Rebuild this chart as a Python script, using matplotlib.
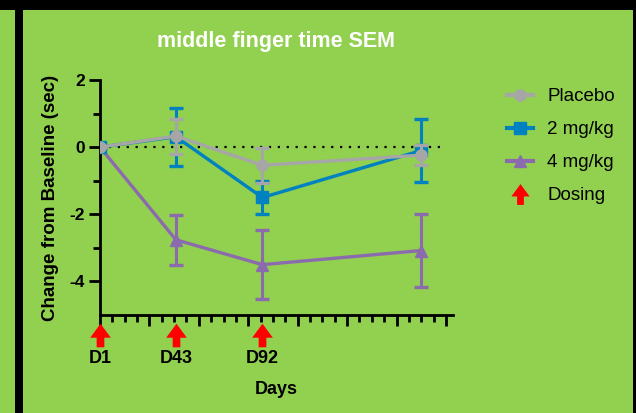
import numpy as np
import matplotlib
matplotlib.use("Agg")
import matplotlib.pyplot as plt
from matplotlib.path import Path
from matplotlib.lines import Line2D
from matplotlib.patches import Rectangle
import matplotlib.transforms as mtransforms

plt.rcParams['font.family'] = ['Liberation Sans', 'DejaVu Sans']

# Study days of each visit and change from baseline (sec) with SEM
days = [0, 43, 92, 182]
placebo_mean = [0.0, 0.33, -0.54, -0.24]
placebo_sem = [0.0, 0.52, 0.52, 0.30]
mg2_mean = [0.0, 0.31, -1.50, -0.10]
mg2_sem = [0.0, 0.86, 0.50, 0.93]
mg4_mean = [0.0, -2.76, -3.50, -3.08]
mg4_sem = [0.0, 0.74, 1.02, 1.10]

dose_days = [0, 43, 92]
dose_labels = ["D1", "D43", "D92"]

series_names = ["Placebo", "2 mg/kg", "4 mg/kg"]

GREEN = "#92D050"
GRAY = "#A6A6A6"
BLUE = "#0082C0"
PURPLE = "#8B6BAE"

fig = plt.figure(figsize=(6.36, 4.13), dpi=100)
fig.patch.set_facecolor(GREEN)

# dark frame around the panel
fig.add_artist(Rectangle((0, 1 - 10 / 413), 1, 10 / 413, transform=fig.transFigure,
                         facecolor="black", edgecolor="none", zorder=0))
fig.add_artist(Rectangle((15 / 636, 0), 8 / 636, 1, transform=fig.transFigure,
                         facecolor="black", edgecolor="none", zorder=0))
fig.add_artist(Rectangle((633 / 636, 0), 3 / 636, 1, transform=fig.transFigure,
                         facecolor="black", edgecolor="none", zorder=0))

ax = fig.add_axes([100 / 636, 98 / 413, 353 / 636, 235 / 413])
ax.set_facecolor(GREEN)
ax.set_xlim(0, 200)
ax.set_ylim(-5, 2)

for s in ["top", "right"]:
    ax.spines[s].set_visible(False)
for s in ["left", "bottom"]:
    ax.spines[s].set_linewidth(2)
    ax.spines[s].set_color("black")

ax.set_yticks([2, 0, -2, -4])
ax.set_yticks([1, -1, -3], minor=True)
ax.set_yticklabels(["2", "0", "-2", "-4"], fontsize=12.5, fontweight="bold")
ax.set_xticks(np.arange(0, 197, 28))
ax.set_xticks(np.arange(0, 197, 7), minor=True)
ax.set_xticklabels([])
ax.tick_params(axis="both", which="major", length=8, width=2, color="black")
ax.tick_params(axis="both", which="minor", length=5, width=2, color="black")
ax.tick_params(axis="y", which="major", pad=3)

# zero reference line
ax.plot([0, 196], [0, 0], color="black", lw=1.6, linestyle=(0, (1, 3)), zorder=1)

line_kw = dict(lw=2.4, capsize=5, elinewidth=2.2, capthick=2.4, markersize=8)
ax.errorbar(days, mg4_mean, yerr=mg4_sem, color=PURPLE, marker="^", zorder=2, **line_kw)
ax.errorbar(days, mg2_mean, yerr=mg2_sem, color=BLUE, marker="s", zorder=3, **line_kw)
ax.errorbar(days, placebo_mean, yerr=placebo_sem, color=GRAY, marker="o", zorder=4, **line_kw)

# arrow-shaped marker for dosing days
arrow_verts = [(0, 8), (-7, -1.5), (-2.6, -1.5), (-2.6, -8), (2.6, -8),
               (2.6, -1.5), (7, -1.5), (0, 8)]
arrow_codes = [Path.MOVETO] + [Path.LINETO] * 6 + [Path.CLOSEPOLY]
arrow_marker = Path(arrow_verts, arrow_codes)

trans = mtransforms.blended_transform_factory(ax.transData, ax.transAxes)
ax.plot(dose_days, [-0.083] * len(dose_days), linestyle="none", marker=arrow_marker,
        markersize=17, color="red", markeredgewidth=0, transform=trans, clip_on=False)
for d, lab in zip(dose_days, dose_labels):
    ax.text(d, -0.185, lab, transform=trans, ha="center", va="center",
            fontsize=13, fontweight="bold")

ax.set_xlabel("Days", fontsize=13, fontweight="bold")
ax.xaxis.set_label_coords(0.5, -0.28)
ax.set_ylabel("Change from Baseline (sec)", fontsize=13.5, fontweight="bold")
ax.yaxis.set_label_coords(-0.115, 0.5)

fig.text(276 / 636, 1 - 42 / 413, "middle finger time SEM", ha="center", va="center",
         color="white", fontsize=15.5, fontweight="bold")

handles = [
    Line2D([], [], color=GRAY, marker="o", lw=3, markersize=8),
    Line2D([], [], color=BLUE, marker="s", lw=3, markersize=8),
    Line2D([], [], color=PURPLE, marker="^", lw=3, markersize=8),
    Line2D([], [], color="red", marker=arrow_marker, linestyle="none", markersize=15,
           markeredgewidth=0),
]
leg = fig.legend(handles, series_names + ["Dosing"], loc="upper left",
                 bbox_to_anchor=(507 / 636, 1 - 88 / 413), frameon=False,
                 borderaxespad=0, borderpad=0,
                 fontsize=13.5, handlelength=1.4, handletextpad=0.75, labelspacing=0.85)

fig.savefig("out.png", dpi=100, facecolor=GREEN)
